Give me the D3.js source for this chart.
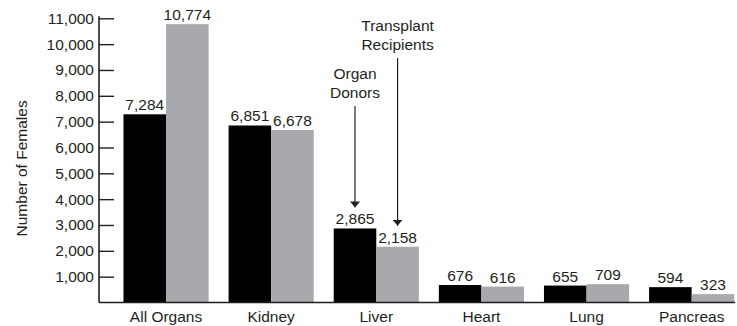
<!DOCTYPE html>
<html>
<head>
<meta charset="utf-8">
<script src="https://cdn.jsdelivr.net/npm/d3@7"></script>
<style>
  html, body { margin: 0; padding: 0; background: #fff; }
  svg { display: block; }
  text { font-family: "Liberation Sans", Arial, Helvetica, sans-serif; fill: #231f20; }
</style>
</head>
<body>
<svg id="chart" width="737" height="326"></svg>
<script>
// Female organ donors vs. transplant recipients by organ
const categories = ["All Organs", "Kidney", "Liver", "Heart", "Lung", "Pancreas"];
const seriesNames = ["Organ Donors", "Transplant Recipients"];
const donors = [7284, 6851, 2865, 676, 655, 594];
const recipients = [10774, 6678, 2158, 616, 709, 323];
const yTicks = [1000, 2000, 3000, 4000, 5000, 6000, 7000, 8000, 9000, 10000, 11000];

const svg = d3.select("#chart");
const fontSize = 15.5;
const colors = ["#000000", "#a7a9ac"];

const x0 = d3.scaleBand()
  .domain(categories)
  .range([99, 735])
  .paddingInner(0.19)
  .paddingOuter(0.12)
  .align(0.97);

const x1 = d3.scaleBand()
  .domain(seriesNames)
  .range([0, x0.bandwidth()]);

const y = d3.scaleLinear()
  .domain([0, 11000])
  .range([302.5, 18.3]);

const rows = categories.map((c, i) => ({ cat: c, values: [donors[i], recipients[i]] }));

// bars
const groups = svg.append("g").selectAll("g")
  .data(rows).join("g")
  .attr("transform", d => `translate(${x0(d.cat)},0)`);

groups.selectAll("rect")
  .data(d => d.values.map((v, j) => ({ name: seriesNames[j], v, j })))
  .join("rect")
  .attr("x", d => x1(d.name))
  .attr("width", x1.bandwidth())
  .attr("y", d => y(d.v))
  .attr("height", d => y(0) - y(d.v))
  .attr("fill", d => colors[d.j]);

// value labels
groups.selectAll("text.val")
  .data(d => d.values.map((v, j) => ({ name: seriesNames[j], v, j })))
  .join("text")
  .attr("class", "val")
  .attr("x", d => x1(d.name) + x1.bandwidth() / 2)
  .attr("y", d => y(d.v) - 4)
  .attr("text-anchor", "middle")
  .style("font-size", fontSize + "px")
  .text(d => d3.format(",")(d.v));

// y axis with inward ticks
const yAxis = svg.append("g")
  .attr("transform", "translate(99,0)")
  .call(d3.axisRight(y).tickValues(yTicks).tickSize(15).tickFormat(() => ""));
yAxis.select(".domain").remove();
yAxis.selectAll(".tick line").attr("stroke", "#231f20").attr("stroke-width", 1.4);

svg.append("g").selectAll("text")
  .data(yTicks).join("text")
  .attr("x", 94)
  .attr("y", d => y(d))
  .attr("dy", "0.35em")
  .attr("text-anchor", "end")
  .style("font-size", fontSize + "px")
  .text(d => d3.format(",")(d));

svg.append("line")
  .attr("x1", 99).attr("x2", 99)
  .attr("y1", y(11000) - 2).attr("y2", y(0))
  .attr("stroke", "#231f20").attr("stroke-width", 1.6);

// baseline
svg.append("line")
  .attr("x1", 99).attr("x2", 735)
  .attr("y1", y(0)).attr("y2", y(0))
  .attr("stroke", "#231f20").attr("stroke-width", 1.6);

// category labels
svg.append("g").selectAll("text")
  .data(categories).join("text")
  .attr("x", d => x0(d) + x0.bandwidth() / 2)
  .attr("y", 322)
  .attr("text-anchor", "middle")
  .style("font-size", fontSize + "px")
  .text(d => d);

// y axis title
svg.append("text")
  .attr("transform", `translate(27,${(y(0) + y(11000)) / 2 + 8}) rotate(-90)`)
  .attr("text-anchor", "middle")
  .style("font-size", fontSize + "px")
  .text("Number of Females");

// series annotations with arrows pointing at the Liver bars
const defs = svg.append("defs");
defs.append("marker")
  .attr("id", "arrowhead")
  .attr("viewBox", "0 0 6 10")
  .attr("refX", 6).attr("refY", 5)
  .attr("markerWidth", 6).attr("markerHeight", 10)
  .attr("markerUnits", "userSpaceOnUse")
  .attr("orient", "auto")
  .append("path")
  .attr("d", "M0,0 L6,5 L0,10 Z")
  .attr("fill", "#231f20");

const liver = "Liver";
const annotations = [
  { name: seriesNames[0], lines: ["Organ", "Donors"], top: 79, from: 106, v: donors[2] },
  { name: seriesNames[1], lines: ["Transplant", "Recipients"], top: 31, from: 58, v: recipients[2] }
];

annotations.forEach(a => {
  const cx = x0(liver) + x1(a.name) + x1.bandwidth() / 2;
  const t = svg.append("text")
    .attr("text-anchor", "middle")
    .style("font-size", fontSize + "px");
  a.lines.forEach((ln, k) => {
    t.append("tspan").attr("x", cx).attr("y", a.top + k * 18.5).text(ln);
  });
  svg.append("line")
    .attr("x1", cx).attr("x2", cx)
    .attr("y1", a.from).attr("y2", y(a.v) - 21)
    .attr("stroke", "#231f20").attr("stroke-width", 1.2)
    .attr("marker-end", "url(#arrowhead)");
});
</script>
</body>
</html>
